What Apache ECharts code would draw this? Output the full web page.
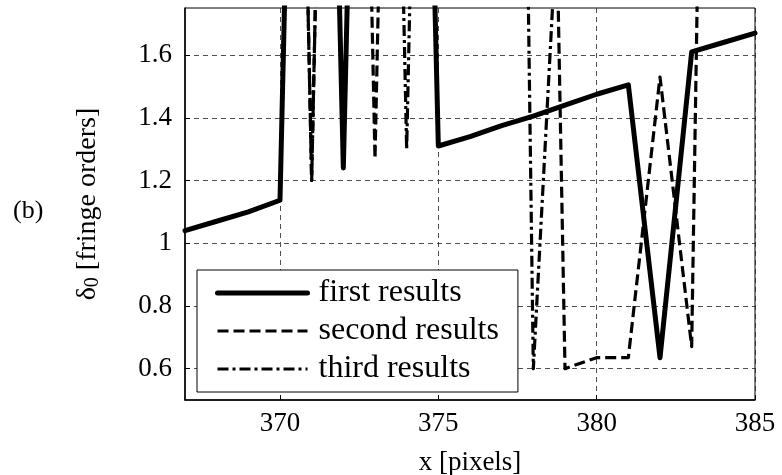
<!DOCTYPE html>
<html>
<head>
<meta charset="utf-8">
<script src="https://cdn.jsdelivr.net/npm/echarts@6/dist/echarts.min.js"></script>
<style>
	html, body { margin: 0; padding: 0; background: #fff; }
	#main { width: 782px; height: 475px; }
</style>
</head>
<body>
<div id="main"></div>
<script>
	var xValues = [367, 368, 369, 370, 371, 372, 373, 374, 375, 376, 377, 378, 379, 380, 381, 382, 383, 384, 385];
	// values above 1.75 run off the top of the plot
	var firstResults = [1.04, 1.07, 1.10, 1.137, 5.5, 1.24, 5.5, 5.5, 1.31, 1.34, 1.375, 1.405, 1.44, 1.475, 1.505, 0.635, 1.61, 1.64, 1.67];
	var secondResults = [6, 6, 6, 6, 1.20, 6, 1.27, 6, 6, 6, 6, 6, 0.60, 0.635, 0.635, 1.53, 0.67, 7, 7];
	var thirdResults = [6, 6, 6, 6, 1.20, 6, 6, 1.30, 6, 6, 8, 0.60, 2.5, 3, 3, 3, 3, 3, 3];
	var xTicks = [370, 375, 380, 385];
	var yTicks = [0.6, 0.8, 1.0, 1.2, 1.4, 1.6];

	var font = "'Liberation Serif', 'Times New Roman', serif";
	var myChart = echarts.init(document.getElementById("main"));

	function pairs(ys) {
		return xValues.map(function(x, i) {
			return [x, ys[i]];
		});
	}

	var gridLine = {
		show: true,
		lineStyle: { color: "#222", width: 0.8, type: [5, 4] }
	};

	var option = {
		backgroundColor: "#fff",
		animation: false,
		graphic: [{
			type: "text",
			left: 13,
			top: 198,
			style: { text: "(b)", font: "26px " + font, fill: "#000" }
		}],
		grid: {
			left: 185, right: 27, top: 8, bottom: 75,
			outerBoundsMode: "none",
			show: true, borderColor: "#000", borderWidth: 1
		},
		legend: {
			orient: "vertical",
			left: 197,
			top: 270,
			padding: [7, 19, 7, 18],
			itemWidth: 90,
			itemHeight: 14,
			itemGap: 6,
			backgroundColor: "#fff",
			borderColor: "#000",
			borderWidth: 1,
			borderRadius: 0,
			itemStyle: { opacity: 0 },
			textStyle: { fontFamily: font, fontSize: 32, color: "#000", lineHeight: 32, padding: [0, 0, 0, 6] },
			data: [
				{ name: "first results", lineStyle: { width: 5 } },
				{ name: "second results", lineStyle: { width: 3.2 } },
				{ name: "third results", lineStyle: { width: 3.2 } }
			]
		},
		xAxis: {
			type: "value",
			min: 367,
			max: 385,
			name: "x [pixels]",
			nameLocation: "middle",
			nameGap: 49,
			nameTextStyle: { fontFamily: font, fontSize: 27, color: "#000" },
			axisLine: { lineStyle: { color: "#000", width: 1.5 } },
			axisTick: { inside: true, length: 5, customValues: xTicks, lineStyle: { color: "#000" } },
			axisLabel: { customValues: xTicks, fontFamily: font, fontSize: 27, color: "#000", margin: 10 },
			splitLine: gridLine
		},
		yAxis: {
			type: "value",
			min: 0.5,
			max: 1.75,
			name: "δ{sub|0} [fringe orders]",
			nameLocation: "middle",
			nameGap: 82,
			nameTextStyle: {
				fontFamily: font, fontSize: 28, color: "#000",
				rich: { sub: { fontFamily: font, fontSize: 20, color: "#000", verticalAlign: "bottom", padding: [10, 0, 0, 0] } }
			},
			axisLine: { lineStyle: { color: "#000", width: 1.5 } },
			axisTick: { inside: true, length: 5, customValues: yTicks, lineStyle: { color: "#000" } },
			axisLabel: {
				customValues: yTicks, fontFamily: font, fontSize: 27, color: "#000", margin: 13,
				formatter: function(v) { return String(Math.round(v * 10) / 10); }
			},
			splitLine: gridLine
		},
		series: [{
			name: "first results",
			type: "line",
			symbol: "none",
			data: pairs(firstResults),
			lineStyle: { color: "#000", width: 5, type: "solid", join: "round", cap: "round" },
			itemStyle: { color: "#000" },
			z: 3
		}, {
			name: "second results",
			type: "line",
			symbol: "none",
			data: pairs(secondResults),
			lineStyle: { color: "#000", width: 3.2, type: [11, 5], join: "round" },
			itemStyle: { color: "#000" },
			z: 4
		}, {
			name: "third results",
			type: "line",
			symbol: "none",
			data: pairs(thirdResults),
			lineStyle: { color: "#000", width: 3.2, type: [11, 4, 3, 4], join: "round" },
			itemStyle: { color: "#000" },
			z: 4
		}]
	};
	myChart.setOption(option);
</script>
</body>
</html>
